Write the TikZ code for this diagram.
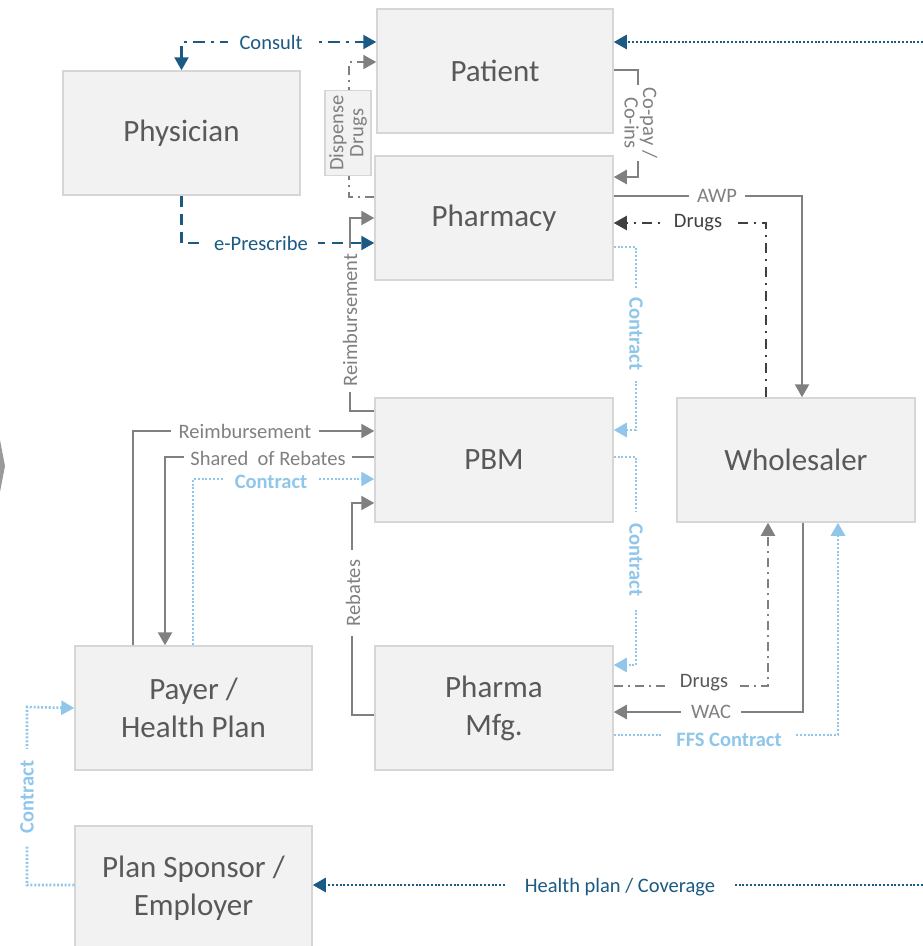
\documentclass[tikz,border=0pt]{standalone}
\usepackage{fontspec}
\setmainfont{Carlito}
\usetikzlibrary{arrows.meta}
\definecolor{boxfill}{HTML}{F2F2F2}
\definecolor{boxdraw}{HTML}{D6D6D6}
\definecolor{boxtext}{HTML}{595959}
\definecolor{greyline}{HTML}{808080}
\definecolor{darkblue}{HTML}{1B5A82}
\definecolor{drugdark}{HTML}{404040}
\definecolor{lightblue}{HTML}{8FC6EA}
\tikzset{
  box/.style={draw=boxdraw, line width=1.5pt, fill=boxfill, minimum width=237pt, minimum height=124pt,
    text=boxtext, align=center, font=\fontsize{31}{38}\selectfont, inner sep=0pt},
  tip/.style={-{Triangle[length=13pt,width=14pt]}},
  solidgrey/.style={draw=greyline, line width=2.4pt, tip},
  ddgrey/.style={draw=greyline, line width=2.2pt, dash pattern=on 9pt off 5pt on 2pt off 5pt, tip},
  dddark/.style={draw=drugdark, line width=2.2pt, dash pattern=on 10pt off 6pt on 2pt off 6pt, tip},
  dotblue/.style={draw=lightblue, line width=2.6pt, dash pattern=on 2pt off 1.8pt, tip},
  dotdark/.style={draw=darkblue, line width=2.6pt, dash pattern=on 2pt off 1.8pt, tip},
  lbl/.style={fill=white, inner xsep=6pt, inner ysep=1pt, font=\fontsize{20.5}{22}\selectfont, text=greyline},
  blbl/.style={lbl, text=darkblue},
  clbl/.style={lbl, text=lightblue, font=\fontsize{20.5}{22}\selectfont\bfseries},
}
\begin{document}
\begin{tikzpicture}[x=1pt,y=-1pt]
\useasboundingbox (0,0) rectangle (923,946);
\fill[greyline!80] (0,440) -- (5,466) -- (0,492) -- cycle;

% boxes
\node[box, minimum width=236pt] (patient) at (495,71) {Patient};
\node[box] (physician) at (181.5,133) {Physician};
\node[box, minimum width=238pt] (pharmacy) at (494,218) {Pharmacy};
\node[box, minimum width=238pt] (pbm) at (494,460) {PBM};
\node[box, minimum width=238pt] (wholesaler) at (796,460) {Wholesaler};
\node[box] (payer) at (193.5,708) {Payer /\\Health Plan};
\node[box, minimum width=238pt] (pharma) at (494,708) {Pharma\\Mfg.};
\node[box] (sponsor) at (193.5,888) {Plan Sponsor /\\Employer};

\coordinate (topend) at (923,42);
\coordinate (hpend) at (923,885);

% Consult
\draw[draw=darkblue, line width=2.3pt, dash pattern=on 12pt off 6pt on 3pt off 6pt,
  {Triangle[length=13pt,width=14pt]}-{Triangle[length=13pt,width=14pt]}]
  (physician.north) |- (patient.west |- 0,42);
\node[blbl, inner xsep=12pt] (lconsult) at (271,42) {Consult};
% e-Prescribe
\draw[draw=darkblue, line width=2.3pt, dash pattern=on 11pt off 7pt, tip]
  (physician.south) |- (pharmacy.west |- 0,243);
\node[blbl, inner xsep=10pt] (lepres) at (261,243) {e-Prescribe};
% top dotted
\draw[dotdark] (topend) -- (patient.east |- 0,42);
% Dispense drugs
\draw[ddgrey] (pharmacy.west |- 0,197) -- (349,197) -- (349,62) -- (patient.west |- 0,62);
\node[rotate=90, draw=boxdraw, line width=1.5pt, fill=boxfill, text=greyline, align=center,
  font=\fontsize{20.5}{20}\selectfont, inner xsep=5pt, inner ysep=4pt] (ldisp) at (348,133) {Dispense\\Drugs};
% Co-pay
\draw[solidgrey] (patient.east |- 0,70) -- (638,70) -- (638,177) -- (pharmacy.east |- 0,177);
\node[lbl, rotate=-90, align=center, font=\fontsize{20.5}{18.5}\selectfont, inner xsep=3pt, inner ysep=0pt] (lcopay) at (641,123) {Co-pay /\\Co-ins};
% AWP
\draw[solidgrey] (pharmacy.east |- 0,196) -| (wholesaler.north -| 802,0);
\node[lbl, inner xsep=8pt] (lawp) at (717,196) {AWP};
% Drugs top
\draw[dddark] (wholesaler.north -| 766,0) |- (pharmacy.east |- 0,223);
\node[lbl, text=drugdark, inner xsep=10pt] (ldrugs1) at (698,223) {Drugs};
% Contract pharmacy-pbm
\draw[dotblue] (pharmacy.east |- 0,247) -- (636,247) -- (636,430) -- (pbm.east |- 0,430);
\node[clbl, rotate=-90, inner xsep=10pt] (lc1) at (636,334) {Contract};
% Reimbursement vertical
\draw[solidgrey] (pbm.west |- 0,411) -- (350,411) -- (350,218) -- (pharmacy.west |- 0,218);
\node[lbl, rotate=90, inner xsep=6pt] (lreim1) at (350,320) {Reimbursement};
% Reimbursement horizontal
\draw[solidgrey] (payer.north -| 133,0) |- (pbm.west |- 0,431);
\node[lbl, inner xsep=8pt] (lreim2) at (245,431) {Reimbursement};
% Shared of rebates
\draw[solidgrey] (pbm.west |- 0,457) -| (payer.north -| 165,0);
\node[lbl, inner xsep=6pt] (lshared) at (268,458) {Shared\ \ of Rebates};
% Contract payer-pbm
\draw[dotblue] (payer.north -| 193,0) |- (pbm.west |- 0,479);
\node[clbl, inner xsep=12pt] (lc2) at (271,482) {Contract};
% Rebates
\draw[solidgrey] (pharma.west |- 0,715) -- (352,715) -- (352,503) -- (pbm.west |- 0,503);
\node[lbl, rotate=90, inner xsep=10pt] (lreb) at (353,593) {Rebates};
% Contract pbm-pharma
\draw[dotblue] (pbm.east |- 0,457) -- (636,457) -- (636,665) -- (pharma.east |- 0,665);
\node[clbl, rotate=-90, inner xsep=12pt] (lc3) at (636,560) {Contract};
% Drugs bottom
\draw[ddgrey, draw=greyline] (pharma.east |- 0,686) -| (wholesaler.south -| 768,0);
\node[lbl, text=boxtext, inner xsep=12pt] (ldrugs2) at (704,683) {Drugs};
% WAC
\draw[solidgrey] (wholesaler.south -| 803,0) |- (pharma.east |- 0,712);
\node[lbl, inner xsep=10pt] (lwac) at (711,712) {WAC};
% FFS contract
\draw[dotblue] (pharma.east |- 0,735) -| (wholesaler.south -| 838,0);
\node[clbl, inner xsep=14pt] (lffs) at (729,740) {FFS Contract};
% Contract sponsor-payer
\draw[dotblue] (sponsor.west |- 0,885) -- (27,885) -- (27,707) -- (payer.west);
\node[clbl, rotate=90, inner xsep=12pt] (lc4) at (27,797) {Contract};
% Health plan / coverage
\draw[dotdark] (hpend) -- (sponsor.east |- 0,885);
\node[blbl, inner xsep=18pt] (lhp) at (620,887) {Health plan / Coverage};
\end{tikzpicture}
\end{document}
